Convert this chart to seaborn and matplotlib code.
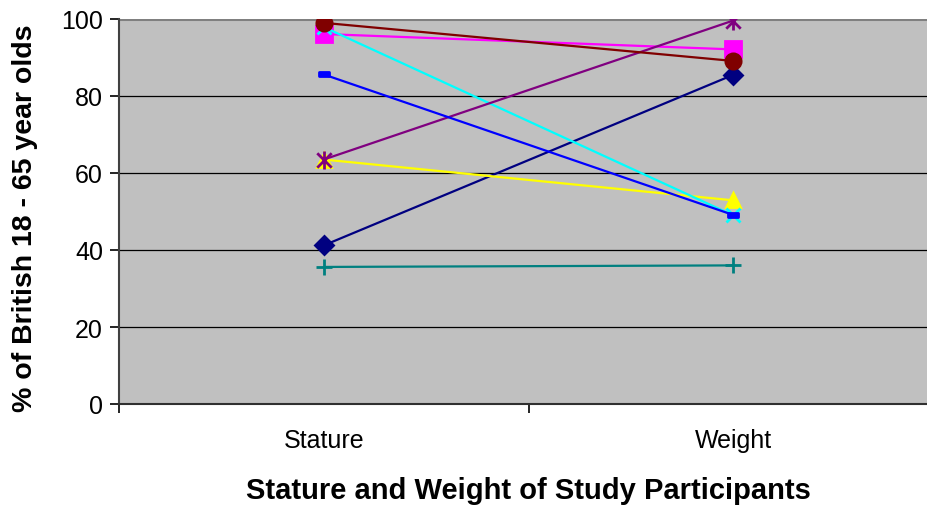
import matplotlib
matplotlib.use("Agg")
import matplotlib.pyplot as plt
import seaborn as sns
import pandas as pd
from matplotlib.path import Path

categories = ["Stature", "Weight"]
navy_diamond = [41.2, 85.5]
magenta_square = [96.1, 92.1]
yellow_triangle = [63.5, 52.9]
cyan_x = [97.9, 49.0]
purple_star = [63.5, 99.6]
brown_circle = [99.0, 89.1]
teal_plus = [35.6, 36.0]
blue_dash = [85.6, 49.1]
yticks = [0, 20, 40, 60, 80, 100]

sns.set_theme(style="white")
plt.rcParams['font.family'] = ['Liberation Sans', 'DejaVu Sans']
for k in ["text.color", "axes.labelcolor", "xtick.color", "ytick.color"]:
    plt.rcParams[k] = "black"

star = Path([(0, -1), (0, 1), (-0.8, -0.8), (0.8, 0.8), (-0.8, 0.8), (0.8, -0.8)],
            [Path.MOVETO, Path.LINETO, Path.MOVETO, Path.LINETO, Path.MOVETO, Path.LINETO])
dash = Path([(-1, -0.45), (1, -0.45), (1, 0.45), (-1, 0.45), (-1, -0.45)],
            [Path.MOVETO, Path.LINETO, Path.LINETO, Path.LINETO, Path.CLOSEPOLY])

series = [
    (navy_diamond, "#000080", "D", 9),
    (magenta_square, "#FF00FF", "s", 11),
    (yellow_triangle, "#FFFF00", "^", 10),
    (cyan_x, "#00FFFF", "x", 9.5),
    (purple_star, "#800080", star, 13),
    (brown_circle, "#800000", "o", 11),
    (teal_plus, "#008080", "+", 11),
    (blue_dash, "#0000FF", dash, 7),
]

fig = plt.figure(figsize=(9.28, 5.06), dpi=100)
ax = fig.add_axes([119/928, 1 - 405/506, 819/928, 385/506])
ax.set_facecolor("#C0C0C0")

for i, (vals, col, mk, ms) in enumerate(series):
    df = pd.DataFrame({"x": [0, 1], "y": vals})
    sns.lineplot(data=df, x="x", y="y", ax=ax, color=col, linewidth=1.6,
                 marker=mk, markersize=ms, markeredgecolor=col, markerfacecolor=col,
                 markeredgewidth=2.0, zorder=3 + i)

ax.set_xlim(-0.5, 1.5)
ax.set_ylim(0, 100)
ax.set_yticks(yticks)
ax.set_yticklabels([str(v) for v in yticks], fontsize=18, color="black")
ax.set_xticks([-0.5, 0.5, 1.5])
ax.set_xticklabels([])
for xi, lab in enumerate(categories):
    ax.text(xi, (405 - 441) / 385, lab, ha="center", va="center", fontsize=18,
            color="black", transform=ax.get_xaxis_transform())
for y in [20, 40, 60, 80]:
    ax.axhline(y, color="black", linewidth=0.9, zorder=1)
ax.axhline(100, color="#808080", linewidth=2.2, zorder=1)
ax.tick_params(axis="both", direction="out", length=6.5, width=1.2, color="black",
               bottom=True, left=True)
ax.tick_params(axis="y", pad=5)
for s in ["top", "right"]:
    ax.spines[s].set_visible(False)
ax.spines["left"].set_color("#404040")
ax.spines["left"].set_linewidth(1.5)
ax.spines["bottom"].set_color("#303030")
ax.spines["bottom"].set_linewidth(1.5)

ax.set_xlabel("")
ax.set_ylabel("")
fig.text(25/928, 1 - 218/506, "% of British 18 - 65 year olds", rotation=90,
         ha="center", va="center", fontsize=20.5, fontweight="bold", color="black")
fig.text(528/928, 1 - 491/506, "Stature and Weight of Study Participants",
         ha="center", va="center", fontsize=21, fontweight="bold", color="black")

fig.savefig("out.png", dpi=100)
